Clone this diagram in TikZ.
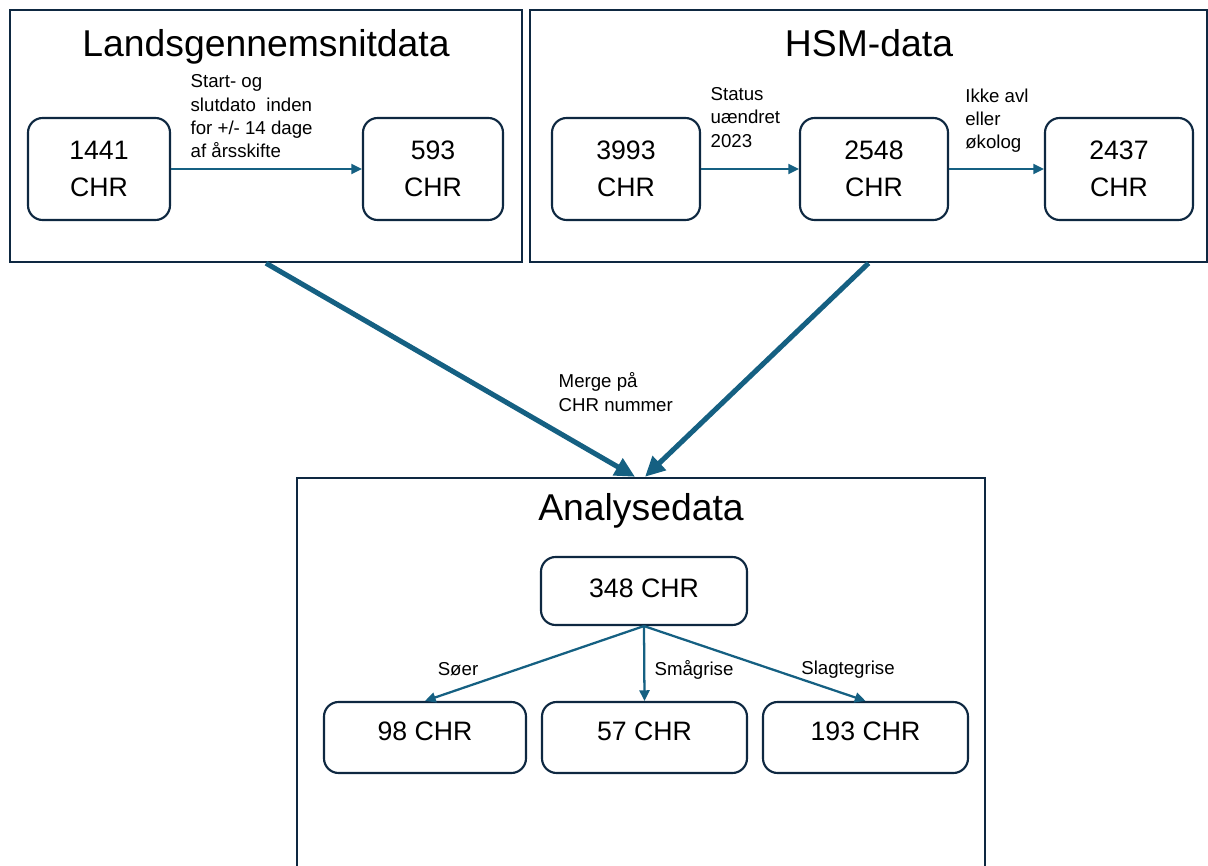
\documentclass[tikz,border=0pt]{standalone}
\usepackage{fontspec}
\setmainfont{Liberation Sans}
\usetikzlibrary{arrows.meta, positioning}
\definecolor{cLine}{RGB}{14,40,65}
\definecolor{cArrow}{RGB}{21,96,130}
\tikzset{
	grpbox/.style   ={rectangle, draw=cLine, line width=1.8pt, inner sep=0pt},
	chrbox/.style   ={rectangle, rounded corners=11pt, draw=cLine, line width=1.6pt, align=center, fill=white, font=\fontsize{20}{28}\selectfont},
	ttl/.style      ={anchor=base, font=\fontsize{28}{32}\selectfont},
	lbl/.style      ={align=left, text=black, font=\fontsize{14}{17.5}\selectfont},
	flowarrow/.style={-{Triangle[length=8pt, width=7.5pt]}, line width=1.7pt, cArrow},
	mergearrow/.style={-{Triangle[length=15pt, width=14pt]}, line width=3.8pt, cArrow},
}
\begin{document}
\begin{tikzpicture}[x=0.75pt, y=-0.75pt]
	\useasboundingbox (0,0) rectangle (1208,866);
	% group frames
	\node[grpbox, minimum width=384pt, minimum height=189pt] (lbox) at (266,136) {};
	\node[grpbox, minimum width=507.75pt, minimum height=189pt] (rbox) at (868.5,136) {};
	\node[grpbox, minimum width=516pt, minimum height=309pt] (abox) at (641,684) {};
	\node[ttl] (tland) at (266,57) {Landsgennemsnitdata};
	\node[ttl] (thsm) at (869,57) {HSM-data};
	\node[ttl] (tanal) at (641,521) {Analysedata};
	% Landsgennemsnitdata
	\node[chrbox, minimum width=106.5pt, minimum height=76.5pt] (n1441) at (99,169) {1441\\CHR};
	\node[chrbox, minimum width=105pt, minimum height=76.5pt] (n593) at (433,169) {593\\CHR};
	\draw[flowarrow] (n1441) -- node[lbl, pos=0, anchor=south west, xshift=10.5pt, yshift=4pt] (ldato) {Start- og\\slutdato~ inden\\for +/- 14 dage\\af årsskifte} (n593);
	% HSM-data
	\node[chrbox, minimum width=111pt, minimum height=76.5pt] (n3993) at (626,169) {3993\\CHR};
	\node[chrbox, minimum width=111pt, minimum height=76.5pt] (n2548) at (874,169) {2548\\CHR};
	\node[chrbox, minimum width=111pt, minimum height=76.5pt] (n2437) at (1119,169) {2437\\CHR};
	\draw[flowarrow] (n3993) -- node[lbl, pos=0, anchor=south west, xshift=3pt, yshift=12pt] (lstatus) {Status\\uændret\\2023} (n2548);
	\draw[flowarrow] (n2548) -- node[lbl, pos=0, anchor=south west, xshift=8pt, yshift=8pt] (lavl) {Ikke avl\\eller\\økolog} (n2437);
	% merge
	\draw[mergearrow] (lbox.south) -- ([xshift=-4.5pt]abox.north);
	\draw[mergearrow] (rbox.south) -- ([xshift=3pt]abox.north);
	\node[lbl, anchor=west] (lmerge) at (554,392) {Merge på\\CHR nummer};
	% Analysedata
	\node[chrbox, minimum width=154.5pt, minimum height=51pt, text depth=4.5pt] (n348) at (644,591) {348 CHR};
	\node[chrbox, minimum width=151.5pt, minimum height=53.25pt, text depth=9.8pt] (n98) at (425,737.5) {98 CHR};
	\node[chrbox, minimum width=153.75pt, minimum height=53.25pt, text depth=9.8pt] (n57) at (644.5,737.5) {57 CHR};
	\node[chrbox, minimum width=153.75pt, minimum height=53.25pt, text depth=9.8pt] (n193) at (865.5,737.5) {193 CHR};
	\draw[flowarrow] (n348.south) -- (n98.north);
	\draw[flowarrow] (n348.south) -- (n57.north);
	\draw[flowarrow] (n348.south) -- (n193.north);
	\node[lbl] (lsoer) at (458,669) {Søer};
	\node[lbl] (lsmaa) at (694,670) {Smågrise};
	\node[lbl] (lslagt) at (848,670) {Slagtegrise};
\end{tikzpicture}
\end{document}
